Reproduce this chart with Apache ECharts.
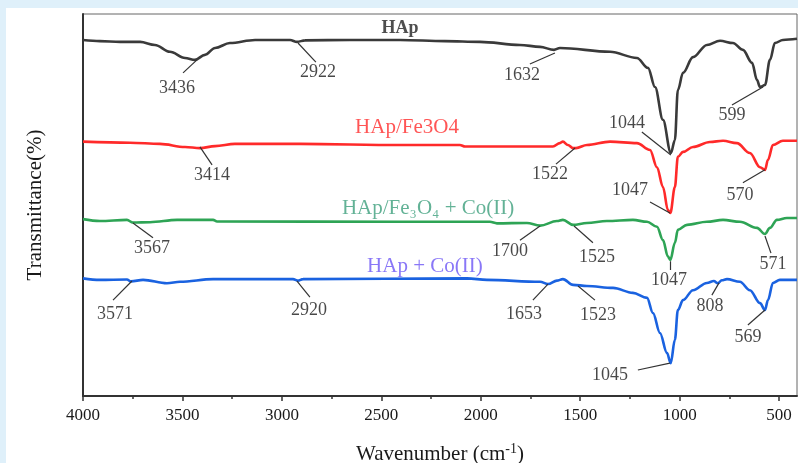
<!DOCTYPE html>
<html>
<head>
<meta charset="utf-8">
<script src="https://cdn.jsdelivr.net/npm/echarts@6/dist/echarts.min.js"></script>
<style>
  html, body { margin: 0; padding: 0; background: #dff0fa; }
  #chart { position: absolute; left: 6px; top: 8px; width: 792px; height: 455px; background: #fff; }
</style>
</head>
<body>
<div id="chart"></div>
<script>
// spectra: [wavenumber, transmittance (offset, a.u.)]
const hap = [
  [4000, 93.2], [3915, 92.9], [3814, 92.7], [3713, 92.7], [3638, 91.9], [3563, 90.1],
  [3487, 88.5], [3437, 88.0], [3387, 89.3], [3336, 91.1], [3261, 92.4], [3135, 93.2],
  [2959, 93.2], [2924, 92.7], [2884, 93.1], [2658, 93.2], [2406, 93.2], [2180, 92.9],
  [2004, 92.7], [1803, 91.9], [1702, 91.4], [1632, 90.6], [1602, 91.1], [1350, 90.1],
  [1215, 88.5], [1159, 85.9], [1124, 80.9], [1084, 72.3], [1044, 63.6], [1024, 67.0],
  [1009, 80.1], [983, 84.6], [933, 88.7], [863, 91.9], [797, 93.0], [732, 92.4],
  [682, 90.6], [636, 87.2], [611, 82.7], [596, 80.9], [571, 81.4], [546, 88.0],
  [521, 92.4], [481, 93.2], [410, 93.5]
];
const hapFe = [
  [4000, 66.6], [3764, 66.3], [3613, 66.0], [3487, 65.2], [3412, 64.9], [3336, 65.4],
  [3236, 66.0], [2909, 66.0], [2406, 65.7], [2105, 65.7], [2079, 65.3], [1637, 65.3],
  [1602, 66.2], [1587, 66.6], [1562, 65.7], [1536, 64.9], [1521, 64.9], [1466, 65.7],
  [1350, 66.6], [1215, 66.2], [1149, 64.4], [1114, 59.9], [1084, 54.7], [1059, 48.7],
  [1047, 47.9], [1024, 54.7], [1009, 62.6], [983, 63.9], [933, 65.2], [848, 66.5],
  [782, 66.8], [712, 66.2], [647, 63.6], [596, 59.9], [571, 59.2], [556, 61.8],
  [531, 65.7], [481, 66.8], [410, 66.8]
];
const hapFeCo = [
  [4000, 46.3], [3915, 45.8], [3779, 46.1], [3749, 45.4], [3663, 45.5], [3527, 46.1],
  [3346, 46.1], [3326, 45.7], [2406, 45.6], [1954, 45.6], [1919, 45.2], [1768, 45.3],
  [1702, 44.6], [1617, 45.8], [1587, 46.1], [1536, 44.8], [1466, 45.3], [1366, 45.8],
  [1235, 46.1], [1164, 45.6], [1114, 44.3], [1084, 40.8], [1059, 36.5], [1047, 35.6],
  [1024, 40.1], [1009, 43.5], [963, 44.8], [863, 45.6], [782, 46.1], [697, 45.6],
  [611, 44.0], [571, 42.4], [546, 44.0], [511, 46.1], [461, 46.6], [410, 46.6]
];
const hapCo = [
  [4000, 30.8], [3915, 30.4], [3779, 30.5], [3759, 30.0], [3698, 30.4], [3578, 29.5],
  [3512, 29.9], [3346, 30.6], [2944, 30.6], [2919, 30.2], [2894, 30.6], [2069, 30.8],
  [1969, 30.4], [1702, 29.9], [1662, 29.3], [1617, 30.2], [1587, 30.6], [1536, 29.1],
  [1466, 28.8], [1335, 28.3], [1235, 27.0], [1164, 25.7], [1134, 21.7], [1099, 16.5],
  [1064, 11.3], [1045, 8.6], [1024, 14.7], [1009, 22.5], [983, 25.1], [933, 27.7],
  [863, 29.6], [828, 30.1], [808, 29.5], [788, 30.3], [762, 30.6], [697, 29.9],
  [647, 27.7], [596, 24.3], [571, 22.5], [556, 25.1], [531, 29.6], [496, 30.4], [410, 30.4]
];

// peak annotations: [text, peak wn, peak T, leader end wn, leader end T, text wn, text T]
const peakNotes = [
  ['3436', 3427, 88.0, 3497, 84.6, 3527, 80.6],
  ['2922', 2919, 92.4, 2829, 87.4, 2818, 84.8],
  ['1632', 1627, 89.8, 1753, 86.9, 1793, 84.0],
  ['1044', 1044, 63.1, 1190, 69.1, 1265, 71.5],
  ['599', 581, 80.9, 737, 76.2, 737, 73.6],
  ['3414', 3412, 65.2, 3351, 60.5, 3351, 57.9],
  ['1522', 1526, 64.9, 1622, 60.7, 1652, 58.1],
  ['1047', 1049, 47.9, 1149, 50.8, 1250, 53.9],
  ['570', 571, 59.2, 682, 55.8, 697, 52.6],
  ['3567', 3749, 45.3, 3648, 41.4, 3653, 38.7],
  ['1700', 1702, 44.5, 1803, 40.8, 1853, 38.0],
  ['1525', 1531, 44.5, 1436, 40.1, 1416, 36.4],
  ['1047', 1049, 35.3, 1049, 33.0, 1054, 30.4],
  ['571', 571, 41.9, 541, 37.4, 531, 34.6],
  ['3571', 3754, 30.1, 3849, 25.1, 3839, 21.5],
  ['2920', 2924, 30.1, 2859, 25.9, 2864, 22.5],
  ['1653', 1662, 29.3, 1738, 25.1, 1783, 21.5],
  ['1523', 1511, 28.8, 1426, 25.1, 1411, 21.2],
  ['808', 802, 29.6, 838, 26.4, 848, 23.6],
  ['569', 571, 22.5, 657, 18.6, 657, 15.4],
  ['1045', 1049, 8.6, 1210, 6.8, 1350, 5.5]
];

// sample names: [text, wn, T, colour]
const sampleNames = [
  ['HAp', 2406, 96.3, '#222'],
  ['HAp/Fe3O4', 2371, 70.2, '#ff2a2a'],
  ['HAp/Fe₃O₄ + Co(II)', 2265, 49.2, '#3c9f7c'],
  ['HAp + Co(II)', 2281, 33.8, '#6b55f5']
];

const majorTicks = [4000, 3500, 3000, 2500, 2000, 1500, 1000, 500];
const minorTicks = [3750, 3250, 2750, 2250, 1750, 1250, 750];

const serif = 'Liberation Serif';
const chart = echarts.init(document.getElementById('chart'));

function spectrum(name, data, color) {
  return {
    name: name,
    type: 'line',
    data: data,
    showSymbol: false,
    smooth: 0.35,
    smoothMonotone: 'x',
    lineStyle: { color: color, width: 2.6 },
    z: 3
  };
}

chart.setOption({
  backgroundColor: '#fff',
  animation: false,
  grid: {
    left: 77, right: 1, top: 6, bottom: 67,
    outerBoundsMode: 'none',
    containLabel: false,
    show: true, borderColor: '#666', borderWidth: 1
  },
  xAxis: [
    {
      type: 'value',
      inverse: true,
      min: 410,
      max: 4000,
      name: 'Wavenumber (cm{sup|-1})',
      nameLocation: 'middle',
      nameGap: 46,
      nameTextStyle: {
        fontFamily: serif, fontSize: 21, color: '#1a1a1a',
        rich: { sup: { fontFamily: serif, fontSize: 14, color: '#1a1a1a', verticalAlign: 'top', padding: [0, 0, 10, 0] } }
      },
      axisLine: { lineStyle: { color: '#333', width: 2 } },
      axisTick: { customValues: majorTicks, length: 5, lineStyle: { color: '#333', width: 1.5 } },
      axisLabel: {
        customValues: majorTicks,
        formatter: v => String(v),
        fontFamily: serif, fontSize: 17, color: '#1a1a1a', margin: 11
      },
      splitLine: { show: false }
    },
    {
      type: 'value',
      inverse: true,
      min: 410,
      max: 4000,
      position: 'bottom',
      axisLine: { show: false },
      axisTick: { customValues: minorTicks, length: 3, lineStyle: { color: '#333', width: 1.5 } },
      axisLabel: { show: false },
      splitLine: { show: false }
    }
  ],
  yAxis: {
    type: 'value',
    min: 0,
    max: 100,
    name: 'Transmittance(%)',
    nameLocation: 'middle',
    nameRotate: 90,
    nameGap: 37,
    nameTextStyle: { fontFamily: serif, fontSize: 21, color: '#1a1a1a' },
    axisLine: { show: true, lineStyle: { color: '#333', width: 2 } },
    axisTick: { show: false },
    axisLabel: { show: false },
    splitLine: { show: false }
  },
  series: [
    spectrum('HAp', hap, '#3a3a3a'),
    spectrum('HAp/Fe3O4', hapFe, '#ff2a2a'),
    spectrum('HAp/Fe3O4 + Co(II)', hapFeCo, '#2ea455'),
    spectrum('HAp + Co(II)', hapCo, '#1a62e0'),
    {
      type: 'lines',
      coordinateSystem: 'cartesian2d',
      silent: true,
      lineStyle: { color: '#333', width: 1.2, opacity: 1 },
      data: peakNotes.map(p => ({ coords: [[p[1], p[2]], [p[3], p[4]]] })),
      z: 4
    },
    {
      type: 'scatter',
      silent: true,
      symbolSize: 0,
      data: peakNotes.map(p => ({ value: [p[5], p[6]], name: p[0] })),
      label: {
        show: true, position: 'inside', formatter: '{b}',
        fontFamily: serif, fontSize: 18, color: '#1a1a1a'
      },
      z: 5
    },
    {
      type: 'scatter',
      silent: true,
      symbolSize: 0,
      data: sampleNames.map(s => ({
        value: [s[1], s[2]], name: s[0],
        label: {
          color: s[3],
          fontWeight: s[0] === 'HAp' ? 'bold' : 'normal',
          fontSize: s[0] === 'HAp' ? 18 : 21
        }
      })),
      label: {
        show: true, position: 'inside', formatter: '{b}',
        fontFamily: serif
      },
      z: 5
    }
  ]
});
</script>
</body>
</html>
